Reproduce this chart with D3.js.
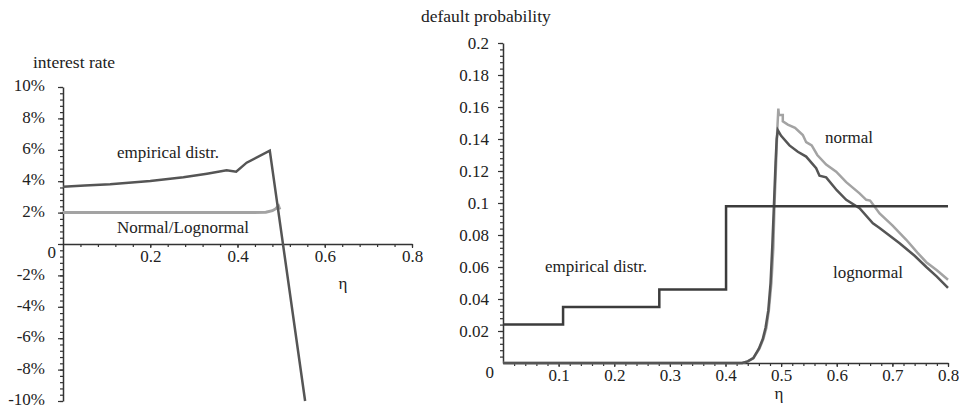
<!DOCTYPE html>
<html>
<head>
<meta charset="utf-8">
<script src="https://cdn.jsdelivr.net/npm/d3@7"></script>
<style>
  body { margin: 0; background: #fff; }
  svg text { font-family: "Liberation Serif", "Times New Roman", Times, Tinos, "Nimbus Roman", "DejaVu Serif", serif; fill: #222; }
</style>
</head>
<body>
<div id="chart"></div>
<script>
// left panel: interest rate (%) vs eta
var leftEmpirical = [
    [0, 3.65], [0.05, 3.72], [0.108, 3.8], [0.2, 4.02], [0.276, 4.25], [0.33, 4.48],
    [0.375, 4.7], [0.397, 4.6], [0.421, 5.18], [0.474, 5.95], [0.555, -10]
];
var leftNormal = [
    [0, 2.0], [0.2, 2.0], [0.4, 2.0], [0.465, 2.02], [0.48, 2.12], [0.488, 2.25], [0.494, 2.42], [0.497, 2.2]
];
var leftYTicks = [10, 8, 6, 4, 2, 0, -2, -4, -6, -8, -10];
var leftXTicks = [0.2, 0.4, 0.6, 0.8];

// right panel: default probability vs eta
var stepEmpirical = [
    [0, 0.024], [0.108, 0.024], [0.108, 0.035], [0.281, 0.035], [0.281, 0.046],
    [0.401, 0.046], [0.401, 0.098], [0.8, 0.098]
];
var rightNormal = [
    [0, 0], [0.43, 0], [0.44, 0.001], [0.45, 0.003], [0.461, 0.009], [0.468, 0.015], [0.4735, 0.022],
    [0.478, 0.033], [0.4825, 0.05], [0.486, 0.072], [0.488, 0.098], [0.491, 0.125], [0.493, 0.145],
    [0.495, 0.159], [0.496, 0.155], [0.503, 0.155], [0.503, 0.151], [0.512, 0.149], [0.525, 0.147],
    [0.539, 0.1425], [0.545, 0.138], [0.555, 0.136], [0.565, 0.13], [0.581, 0.124], [0.599, 0.1196],
    [0.617, 0.113], [0.641, 0.106], [0.653, 0.102], [0.66, 0.1015], [0.677, 0.0935],
    [0.7, 0.086], [0.725, 0.077], [0.745, 0.069], [0.761, 0.063], [0.78, 0.058], [0.8, 0.052]
];
var rightLognormal = [
    [0, 0], [0.43, 0], [0.44, 0.001], [0.45, 0.003], [0.46, 0.009], [0.467, 0.015], [0.472, 0.022],
    [0.477, 0.033], [0.481, 0.05], [0.484, 0.072], [0.487, 0.098], [0.49, 0.125], [0.492, 0.14],
    [0.494, 0.1456], [0.5, 0.142], [0.515, 0.136], [0.53, 0.132], [0.545, 0.129], [0.563, 0.1217],
    [0.569, 0.117], [0.581, 0.116], [0.6, 0.108], [0.617, 0.102], [0.641, 0.0967], [0.665, 0.0873],
    [0.677, 0.0844], [0.69, 0.081], [0.713, 0.0748], [0.74, 0.067], [0.761, 0.06],
    [0.78, 0.054], [0.8, 0.047]
];
var rightYTicks = [0.02, 0.04, 0.06, 0.08, 0.1, 0.12, 0.14, 0.16, 0.18, 0.2];
var rightXTicks = [0.1, 0.2, 0.3, 0.4, 0.5, 0.6, 0.7, 0.8];

const DARK = "#555";
const LIGHT = "#a3a3a3";
const STEP = "#3c3c3c";
const AXIS = "#333";
const SERIF = "'Liberation Serif', 'Times New Roman', Times, Tinos, 'Nimbus Roman', 'DejaVu Serif', serif";
const TICK_FONT = "17px";
const LABEL_FONT = "17px";
const TITLE_FONT = "17.5px";

var svg = d3.select("#chart").append("svg")
    .attr("width", 959)
    .attr("height", 409)
    .attr("font-family", SERIF);

function fmt(v) { return String(+v.toFixed(3)); }

// ---------- left panel ----------
var lx = d3.scaleLinear().domain([0, 0.8]).range([63, 412]);
var ly = d3.scaleLinear().domain([-10, 10]).range([401, 87]);

var left = svg.append("g");

// minor ticks
left.append("g").attr("transform", "translate(63,0)")
    .call(d3.axisLeft(ly).tickValues(d3.range(-10, 10.01, 0.4)).tickSize(3).tickFormat(""))
    .call(function (g) { g.select(".domain").remove(); });
left.append("g").attr("transform", "translate(0,244)")
    .call(d3.axisBottom(lx).tickValues(d3.range(0.04, 0.801, 0.04)).tickSize(3).tickFormat(""))
    .call(function (g) { g.select(".domain").remove(); });

// major
left.append("g").attr("class", "ly-axis").attr("transform", "translate(63,0)")
    .call(d3.axisLeft(ly).tickValues(leftYTicks).tickSize(5).tickSizeOuter(0).tickPadding(13)
        .tickFormat(function (d) { return d === 0 ? "" : d + "%"; }));
left.append("g").attr("transform", "translate(0,244)")
    .call(d3.axisBottom(lx).tickValues(leftXTicks).tickSize(4).tickSizeOuter(0).tickPadding(2)
        .tickFormat(fmt));
// keep the bottom label inside the frame
left.selectAll(".ly-axis .tick text").attr("dy", "0.22em");

left.append("text").attr("x", 56).attr("y", 258).attr("text-anchor", "end")
    .style("font-size", TICK_FONT).text("0");

// curves
var lline = d3.line().x(function (d) { return lx(d[0]); }).y(function (d) { return ly(d[1]); });
left.append("path").datum(leftNormal).attr("d", lline)
    .attr("fill", "none").attr("stroke", LIGHT).attr("stroke-width", 3);
left.append("path").datum(leftEmpirical).attr("d", lline)
    .attr("fill", "none").attr("stroke", DARK).attr("stroke-width", 2.5);

left.append("text").attr("x", 33).attr("y", 68).style("font-size", TITLE_FONT).text("interest rate");
left.append("text").attr("x", 168).attr("y", 158).attr("text-anchor", "middle")
    .style("font-size", LABEL_FONT).text("empirical distr.");
left.append("text").attr("x", 183).attr("y", 233).attr("text-anchor", "middle")
    .style("font-size", LABEL_FONT).text("Normal/Lognormal");
left.append("text").attr("x", 343).attr("y", 289).attr("text-anchor", "middle")
    .style("font-size", LABEL_FONT).text("η");

// ---------- right panel ----------
var rx = d3.scaleLinear().domain([0, 0.8]).range([503, 948]);
var ry = d3.scaleLinear().domain([0, 0.2]).range([363, 43]);

var right = svg.append("g");

right.append("g").attr("transform", "translate(503,0)")
    .call(d3.axisLeft(ry).tickValues(d3.range(0.004, 0.2001, 0.004)).tickSize(3).tickFormat(""))
    .call(function (g) { g.select(".domain").remove(); });
right.append("g").attr("transform", "translate(0,363)")
    .call(d3.axisBottom(rx).tickValues(d3.range(0.02, 0.801, 0.02)).tickSize(3).tickFormat(""))
    .call(function (g) { g.select(".domain").remove(); });

right.append("g").attr("transform", "translate(503,0)")
    .call(d3.axisLeft(ry).tickValues(rightYTicks).tickSize(5).tickSizeOuter(0).tickPadding(9)
        .tickFormat(fmt));
right.append("g").attr("transform", "translate(0,363)")
    .call(d3.axisBottom(rx).tickValues(rightXTicks).tickSize(4).tickSizeOuter(0).tickPadding(2)
        .tickFormat(fmt));

right.append("text").attr("x", 494).attr("y", 378).attr("text-anchor", "end")
    .style("font-size", TICK_FONT).text("0");

var rline = d3.line().x(function (d) { return rx(d[0]); }).y(function (d) { return ry(d[1]); });
right.append("path").datum(rightNormal).attr("d", rline)
    .attr("fill", "none").attr("stroke", LIGHT).attr("stroke-width", 2.5);
right.append("path").datum(rightLognormal).attr("d", rline)
    .attr("fill", "none").attr("stroke", DARK).attr("stroke-width", 2.5);
right.append("path").datum(stepEmpirical).attr("d", rline)
    .attr("fill", "none").attr("stroke", STEP).attr("stroke-width", 2.5);

right.append("text").attr("x", 421).attr("y", 22).style("font-size", TITLE_FONT).text("default probability");
right.append("text").attr("x", 596).attr("y", 272).attr("text-anchor", "middle")
    .style("font-size", LABEL_FONT).text("empirical distr.");
right.append("text").attr("x", 849).attr("y", 143).attr("text-anchor", "middle")
    .style("font-size", LABEL_FONT).text("normal");
right.append("text").attr("x", 868).attr("y", 278).attr("text-anchor", "middle")
    .style("font-size", LABEL_FONT).text("lognormal");
right.append("text").attr("x", 779).attr("y", 399).attr("text-anchor", "middle")
    .style("font-size", LABEL_FONT).text("η");

// axis styling
svg.selectAll(".domain").attr("stroke", AXIS).attr("stroke-width", 1.5);
svg.selectAll(".tick line").attr("stroke", AXIS).attr("stroke-width", 1.2);
svg.selectAll("g").attr("font-family", null);
svg.selectAll(".tick text").style("font-family", SERIF)
    .style("font-size", TICK_FONT).attr("fill", "#222");
</script>
</body>
</html>
